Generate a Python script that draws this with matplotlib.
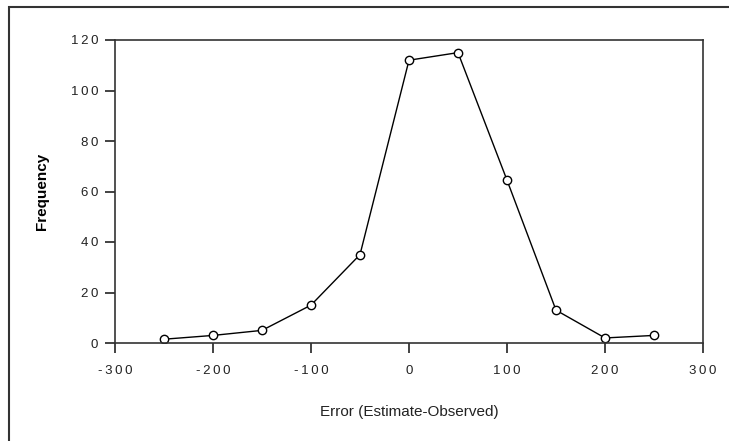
import matplotlib
matplotlib.use("Agg")
from matplotlib import pyplot as plt
from matplotlib.patches import Rectangle
from matplotlib.ticker import FuncFormatter, MultipleLocator

# error bins and counts
error_bins = [-250, -200, -150, -100, -50, 0, 50, 100, 150, 200, 250]
frequency = [1.5, 3, 5, 15, 35, 112, 115, 64.5, 13, 2, 3]

x_label = "Error (Estimate-Observed)"
y_label = "Frequency"

plt.rcParams['font.family'] = ['Liberation Sans', 'DejaVu Sans']

W, H = 729, 441
fig = plt.figure(figsize=(W / 100, H / 100), dpi=100)
ax = fig.add_axes([115 / W, 1 - 343 / H, (703 - 115) / W, (343 - 40) / H])

ax.plot(error_bins, frequency, color="black", linewidth=1.0,
        marker="o", markersize=6, markerfacecolor="white",
        markeredgecolor="black", markeredgewidth=1.0)

ax.set_xlim(-300, 300)
ax.set_ylim(0, 120)
ax.xaxis.set_major_locator(MultipleLocator(100))
ax.yaxis.set_major_locator(MultipleLocator(20))


def spaced(v, pos):
    # old excel charts spread the digits out a bit
    return "\u2009".join("%d" % v)


ax.xaxis.set_major_formatter(FuncFormatter(spaced))
ax.yaxis.set_major_formatter(FuncFormatter(spaced))
ax.tick_params(axis="both", direction="out", length=7, width=1.2,
               labelsize=9.5, colors="#222222")
ax.tick_params(axis="x", pad=9)
ax.tick_params(axis="y", pad=5)

for s in ax.spines.values():
    s.set_linewidth(1.2)
    s.set_color("#333333")

ax.set_xlabel(x_label, fontsize=11, labelpad=20, color="#222222")
ax.set_ylabel(y_label, fontsize=11, fontweight="bold", labelpad=16)

# outer chart frame, runs off the right and bottom edge
fig.patches.append(Rectangle((9 / W, -0.1), 1.2, 1 - 7 / H + 0.1,
                             transform=fig.transFigure, fill=False,
                             edgecolor="#333333", linewidth=1.5))

fig.savefig("out.png", dpi=100)
